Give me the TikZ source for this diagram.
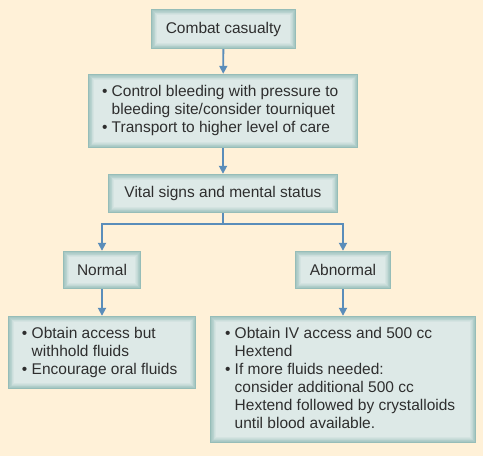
\documentclass[tikz,border=0pt]{standalone}
\usepackage{fontspec}
\setmainfont{Liberation Sans}
\usetikzlibrary{arrows.meta,calc}
\definecolor{bgcream}{HTML}{FFF1D8}
\definecolor{boxedge}{HTML}{96BDB8}
\definecolor{boxin}{HTML}{DDE9E7}
\definecolor{arrowblue}{HTML}{5A8DBA}
\definecolor{txt}{HTML}{2E2E2E}
\tikzset{
  fbox/.style={fill=boxedge, inner sep=0pt, text=txt,
    font=\fontsize{15.5}{18}\selectfont,
    path picture={
      \foreach \i [evaluate=\i as \p using \i*12.5] in {1,...,8}{
        \fill[boxin!\p!boxedge]
          ($(path picture bounding box.south west)+(\i*0.7pt,\i*0.7pt)$) rectangle
          ($(path picture bounding box.north east)-(\i*0.7pt,\i*0.7pt)$);
      }
    }},
  conn/.style={draw=arrowblue, line width=1.8pt},
  arr/.style={conn, -{Triangle[width=8pt,length=8pt]}}
}
\newcommand{\bpad}{\hphantom{\textbullet\ }}
\newcommand{\lbox}[2]{\makebox[#1][l]{\begin{tabular}{@{}l@{}}#2\end{tabular}}}
\begin{document}
\begin{tikzpicture}[x=1pt,y=-1pt]
\useasboundingbox (0,0) rectangle (483,456);
\fill[bgcream] (0,0) rectangle (483,456);

\node[fbox, minimum width=145pt, minimum height=40pt] (cas) at (223.5,29) {Combat casualty};
\node[fbox, minimum width=270pt, minimum height=74pt] (ctrl) at (223,111)
  {\lbox{242pt}{\textbullet\ Control bleeding with pressure to\\
   \bpad bleeding site/consider tourniquet\\
   \textbullet\ Transport to higher level of care}};
\node[fbox, minimum width=230pt, minimum height=39pt] (vit) at (223,193.5) {Vital signs and mental status};
\node[fbox, minimum width=78pt, minimum height=38pt] (norm) at (102,270) {Normal};
\node[fbox, minimum width=96pt, minimum height=38pt] (abn) at (343,270) {Abnormal};
\node[fbox, minimum width=188pt, minimum height=73pt] (nlist) at (102,352.5)
  {\lbox{160pt}{\textbullet\ Obtain access but\\
   \bpad withhold fluids\\
   \textbullet\ Encourage oral fluids}};
\node[fbox, minimum width=266pt, minimum height=127pt] (alist) at (343,379.5)
  {\lbox{236pt}{\textbullet\ Obtain IV access and 500 cc\\
   \bpad Hextend\\
   \textbullet\ If more fluids needed:\\
   \bpad consider additional 500 cc\\
   \bpad Hextend followed by crystalloids\\
   \bpad until blood available.}};

\coordinate (j) at (223,224);
\draw[arr] (cas) -- (ctrl);
\draw[arr] (ctrl) -- (vit);
\draw[conn] (vit) -- (j);
\draw[arr] (j) -| (norm);
\draw[arr] (j) -| (abn);
\draw[arr] (norm) -- (nlist);
\draw[arr] (abn) -- (alist);
\end{tikzpicture}
\end{document}
